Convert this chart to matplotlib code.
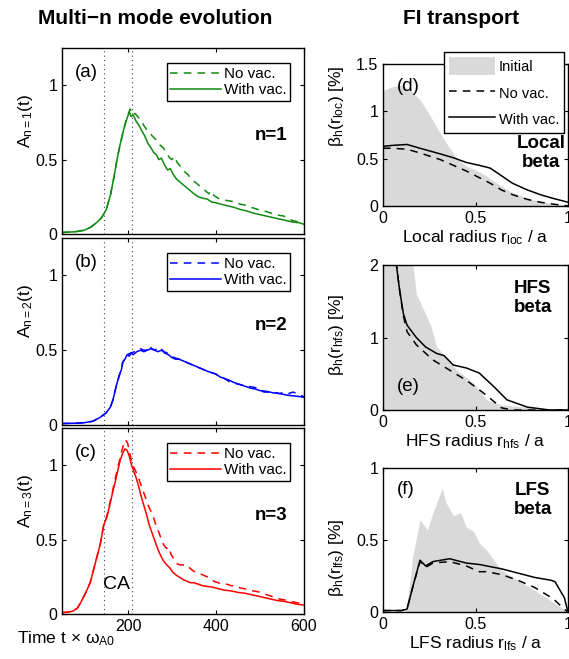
import matplotlib
matplotlib.use("Agg")
import matplotlib.pyplot as plt
from matplotlib.patches import Patch
from matplotlib.lines import Line2D

plt.rcParams['font.family'] = ['Liberation Sans', 'DejaVu Sans']
plt.rcParams['mathtext.fontset'] = 'custom'
plt.rcParams['mathtext.rm'] = 'Liberation Sans'
plt.rcParams['mathtext.it'] = 'Liberation Sans'
plt.rcParams['mathtext.bf'] = 'Liberation Sans:bold'

# ---- left column: mode amplitudes vs time ----
t1_with = [50, 80, 100, 115, 130, 140, 150, 160, 168, 175, 182, 190, 197, 203, 207, 212, 218, 225, 232,
           238, 245, 252, 258, 265, 270, 276, 282, 290, 296, 303, 310, 318, 326, 334, 342, 350, 360, 370,
           380, 390, 400, 412, 425, 440, 455, 470, 485, 500, 515, 530, 545, 560, 575, 590, 600]
a1_with = [0.01, 0.015, 0.025, 0.045, 0.08, 0.11, 0.16, 0.26, 0.38, 0.5, 0.6, 0.7, 0.77, 0.82, 0.79, 0.8,
           0.76, 0.73, 0.69, 0.66, 0.61, 0.58, 0.55, 0.53, 0.5, 0.51, 0.47, 0.43, 0.44, 0.4, 0.37, 0.35,
           0.33, 0.31, 0.29, 0.27, 0.25, 0.24, 0.235, 0.215, 0.21, 0.2, 0.19, 0.18, 0.165, 0.155, 0.14,
           0.13, 0.12, 0.11, 0.1, 0.09, 0.08, 0.075, 0.065]
t1_novac = [50, 80, 100, 115, 130, 140, 150, 160, 168, 175, 182, 190, 197, 205, 210, 216, 222, 230, 238,
            245, 252, 258, 265, 272, 280, 288, 295, 300, 305, 312, 320, 328, 336, 344, 352, 360, 368, 376,
            384, 388, 395, 405, 415, 425, 435, 445, 455, 465, 475, 485, 495, 505, 515, 525, 535, 545, 555,
            565, 575, 590, 600]
a1_novac = [0.01, 0.015, 0.025, 0.045, 0.08, 0.11, 0.16, 0.26, 0.38, 0.5, 0.6, 0.7, 0.78, 0.84, 0.8, 0.81,
            0.79, 0.76, 0.72, 0.69, 0.67, 0.65, 0.63, 0.6, 0.58, 0.54, 0.51, 0.5, 0.52, 0.48, 0.45, 0.42,
            0.4, 0.37, 0.35, 0.33, 0.31, 0.29, 0.27, 0.29, 0.26, 0.24, 0.23, 0.225, 0.22, 0.215, 0.2, 0.195,
            0.18, 0.175, 0.165, 0.16, 0.15, 0.14, 0.13, 0.125, 0.12, 0.1, 0.09, 0.08, 0.075]

t2_with = [50, 80, 100, 120, 136, 150, 160, 166, 170, 175, 180, 185, 188, 193, 198, 203, 207, 212, 220,
           228, 236, 244, 252, 260, 268, 276, 284, 292, 300, 308, 316, 324, 332, 340, 348, 356, 364, 372,
           380, 390, 400, 410, 420, 430, 440, 450, 460, 470, 480, 490, 500, 515, 530, 545, 560, 575, 590, 600]
a2_with = [0.01, 0.012, 0.015, 0.025, 0.05, 0.08, 0.12, 0.17, 0.22, 0.28, 0.33, 0.37, 0.42, 0.44, 0.47,
           0.46, 0.48, 0.47, 0.49, 0.5, 0.49, 0.5, 0.51, 0.5, 0.49, 0.5, 0.48, 0.47, 0.45, 0.44, 0.44, 0.43,
           0.42, 0.41, 0.4, 0.39, 0.38, 0.37, 0.36, 0.35, 0.34, 0.32, 0.31, 0.3, 0.285, 0.275, 0.265, 0.255,
           0.245, 0.24, 0.23, 0.225, 0.215, 0.21, 0.2, 0.195, 0.19, 0.185]
t2_novac = [50, 80, 100, 120, 136, 150, 160, 166, 170, 175, 180, 185, 188, 193, 198, 205, 215, 222, 228,
            236, 242, 248, 254, 262, 268, 275, 282, 290, 298, 306, 316, 324, 332, 340, 348, 356, 364, 372,
            380, 390, 400, 410, 420, 430, 440, 455, 470, 490, 500, 510, 530, 545, 555, 565, 575, 585, 590, 600]
a2_novac = [0.01, 0.012, 0.015, 0.025, 0.05, 0.08, 0.12, 0.17, 0.22, 0.28, 0.33, 0.37, 0.42, 0.44, 0.47,
            0.48, 0.49, 0.5, 0.51, 0.5, 0.5, 0.53, 0.51, 0.5, 0.52, 0.51, 0.49, 0.48, 0.46, 0.45, 0.44, 0.43,
            0.42, 0.41, 0.4, 0.39, 0.38, 0.37, 0.36, 0.35, 0.34, 0.32, 0.31, 0.29, 0.28, 0.27, 0.26, 0.25,
            0.23, 0.22, 0.22, 0.21, 0.22, 0.21, 0.22, 0.21, 0.2, 0.19]

t3_with = [50, 65, 75, 85, 95, 105, 114, 122, 129, 137, 145, 152, 160, 166, 172, 178, 183, 188, 193, 198,
           203, 208, 213, 218, 224, 230, 236, 242, 248, 254, 260, 266, 273, 280, 288, 295, 302, 310, 318,
           326, 334, 342, 350, 360, 370, 380, 393, 405, 420, 435, 450, 465, 480, 495, 510, 525, 540, 555,
           570, 585, 600]
a3_with = [0.01, 0.012, 0.02, 0.04, 0.09, 0.15, 0.21, 0.3, 0.38, 0.47, 0.6, 0.65, 0.75, 0.83, 0.9, 0.98,
           1.04, 1.08, 1.11, 1.1, 1.06, 1.0, 0.96, 0.92, 0.86, 0.79, 0.73, 0.67, 0.6, 0.55, 0.5, 0.45, 0.4,
           0.36, 0.33, 0.31, 0.28, 0.26, 0.245, 0.23, 0.22, 0.21, 0.21, 0.2, 0.19, 0.185, 0.18, 0.17, 0.16,
           0.155, 0.145, 0.14, 0.13, 0.12, 0.11, 0.1, 0.09, 0.085, 0.075, 0.065, 0.06]
t3_novac = [50, 65, 75, 85, 95, 105, 114, 122, 129, 137, 145, 152, 160, 166, 170, 176, 182, 188, 194, 199,
            204, 210, 216, 222, 228, 234, 240, 246, 252, 258, 264, 270, 276, 282, 288, 292, 298, 304, 310,
            318, 326, 334, 340, 348, 356, 364, 372, 380, 388, 395, 405, 415, 425, 435, 445, 455, 465, 475,
            485, 495, 505, 515, 525, 535, 545, 555, 570, 585, 600]
a3_novac = [0.01, 0.012, 0.02, 0.04, 0.09, 0.15, 0.21, 0.3, 0.38, 0.47, 0.6, 0.66, 0.76, 0.84, 0.9, 0.97,
            1.05, 1.12, 1.17, 1.15, 1.08, 1.0, 0.97, 0.93, 0.88, 0.83, 0.78, 0.73, 0.69, 0.65, 0.59, 0.55,
            0.5, 0.46, 0.44, 0.45, 0.4, 0.37, 0.34, 0.33, 0.33, 0.33, 0.31, 0.29, 0.28, 0.27, 0.26, 0.25,
            0.24, 0.22, 0.21, 0.2, 0.2, 0.19, 0.19, 0.175, 0.17, 0.16, 0.155, 0.15, 0.14, 0.13, 0.12, 0.11,
            0.1, 0.095, 0.085, 0.075, 0.07]

ca_times = [145, 210]

# ---- right column: fast ion beta profiles ----
r_loc_init = [0, 0.05, 0.1, 0.15, 0.2, 0.25, 0.3, 0.35, 0.4, 0.45, 0.5, 0.55, 0.6, 0.65, 0.7, 0.8, 0.9, 1.0]
b_loc_init = [1.22, 1.26, 1.28, 1.22, 1.12, 0.97, 0.8, 0.64, 0.5, 0.42, 0.38, 0.33, 0.26, 0.2, 0.14, 0.07, 0.03, 0.01]
r_loc = [0, 0.05, 0.13, 0.2, 0.31, 0.38, 0.45, 0.52, 0.58, 0.64, 0.7, 0.78, 0.85, 0.92, 1.0]
b_loc_with = [0.63, 0.64, 0.65, 0.61, 0.55, 0.51, 0.46, 0.43, 0.4, 0.32, 0.24, 0.17, 0.12, 0.08, 0.04]
b_loc_novac = [0.61, 0.61, 0.6, 0.56, 0.49, 0.43, 0.37, 0.3, 0.24, 0.17, 0.12, 0.07, 0.04, 0.02, 0.0]

r_hfs_init = [0, 0.1, 0.16, 0.18, 0.22, 0.26, 0.29, 0.33, 0.4, 0.49, 0.56, 0.64, 0.82, 1.0]
b_hfs_init = [2.1, 2.1, 2.05, 1.6, 1.38, 1.15, 0.87, 0.76, 0.55, 0.37, 0.14, 0.07, 0.03, 0.0]
r_hfs_with = [0.07, 0.09, 0.11, 0.13, 0.18, 0.23, 0.29, 0.33, 0.38, 0.45, 0.52, 0.6, 0.67, 0.78, 0.9, 1.0]
b_hfs_with = [2.05, 1.65, 1.33, 1.17, 1.0, 0.87, 0.78, 0.75, 0.62, 0.58, 0.51, 0.32, 0.14, 0.04, 0.0, 0.0]
r_hfs_novac = [0.07, 0.09, 0.11, 0.13, 0.18, 0.27, 0.36, 0.45, 0.52, 0.57, 0.64, 0.7, 1.0]
b_hfs_novac = [2.05, 1.65, 1.3, 1.08, 0.9, 0.69, 0.55, 0.41, 0.28, 0.18, 0.03, 0.0, 0.0]

r_lfs_init = [0, 0.12, 0.14, 0.16, 0.2, 0.24, 0.27, 0.32, 0.34, 0.38, 0.42, 0.45, 0.49, 0.52, 0.56,
              0.64, 0.73, 0.82, 0.93, 1.0]
b_lfs_init = [0, 0.0, 0.15, 0.38, 0.64, 0.57, 0.69, 0.86, 0.76, 0.67, 0.69, 0.59, 0.56, 0.48, 0.43,
              0.29, 0.22, 0.15, 0.06, 0.0]
r_lfs = [0, 0.1, 0.13, 0.16, 0.2, 0.23, 0.27, 0.36, 0.45, 0.52, 0.56, 0.64, 0.73, 0.82, 0.91, 0.93, 0.98, 1.0]
b_lfs_with = [0.01, 0.01, 0.02, 0.17, 0.36, 0.32, 0.35, 0.37, 0.34, 0.33, 0.32, 0.3, 0.27, 0.24, 0.22,
              0.21, 0.1, 0.0]
b_lfs_novac = [0.01, 0.01, 0.02, 0.17, 0.35, 0.31, 0.34, 0.35, 0.32, 0.28, 0.28, 0.26, 0.22, 0.17, 0.1,
               0.08, 0.02, 0.0]

W, H = 569, 659
fig = plt.figure(figsize=(W / 100, H / 100), dpi=100)

def px_axes(x0, y0, x1, y1):
    return fig.add_axes([x0 / W, 1 - y1 / H, (x1 - x0) / W, (y1 - y0) / H])

def style(ax):
    ax.tick_params(direction='in', top=True, right=True, labelsize=11.5, length=3, width=0.8)
    for s in ax.spines.values():
        s.set_linewidth(1.0)

DASH = (0, (5, 4))

# left column
left_panels = [
    (48, 234, t1_with, a1_with, t1_novac, a1_novac, '#108a10', '(a)', 'n=1', r'$\mathregular{A_{n=1}(t)}$'),
    (238, 425, t2_with, a2_with, t2_novac, a2_novac, '#0000ff', '(b)', 'n=2', r'$\mathregular{A_{n=2}(t)}$'),
    (428, 614, t3_with, a3_with, t3_novac, a3_novac, '#ff0000', '(c)', 'n=3', r'$\mathregular{A_{n=3}(t)}$'),
]
for i, (y0, y1, tw, aw, tn, an, col, tag, nlab, ylab) in enumerate(left_panels):
    ax = px_axes(62, y0, 304, y1)
    for tc in ca_times:
        ax.axvline(tc, color='#444444', ls=(0, (1, 3)), lw=0.8)
    ax.plot(tn, an, color=col, ls=DASH, lw=1.1, label='No vac.')
    ax.plot(tw, aw, color=col, lw=1.1, label='With vac.')
    ax.set_xlim(50, 600)
    ax.set_ylim(0, 1.25)
    ax.set_xticks([200, 400, 600])
    ax.set_yticks([0, 0.5, 1])
    ax.set_yticklabels(['0', '0.5', '1'])
    style(ax)
    if i < 2:
        ax.set_xticklabels([])
    ax.set_ylabel(ylab, fontsize=12.5)
    ax.yaxis.set_label_coords(-0.11, 0.61)
    ax.text(0.054, 0.87, tag, transform=ax.transAxes, fontsize=13.5, va='center')
    ax.text(0.93, 0.53, nlab, transform=ax.transAxes, fontsize=13.5, fontweight='bold',
            ha='right', va='center')
    ax.legend(loc='upper right', bbox_to_anchor=(0.975, 0.96), fontsize=11, handlelength=3.3,
              borderpad=0.25, labelspacing=0.15, handletextpad=0.2, fancybox=False,
              edgecolor='black', framealpha=1).get_frame().set_linewidth(1.0)
    if i == 2:
        ax.text(0.17, 0.16, 'CA', transform=ax.transAxes, fontsize=14, va='center')

fig.text(17 / W, 1 - 639 / H, r'Time t $\mathregular{\times\ \omega_{A0}}$', fontsize=12.5,
         ha='left', va='center')

# right column
right_panels = [
    (64, 206, r_loc_init, b_loc_init, r_loc, b_loc_with, r_loc, b_loc_novac, 1.5, [0, 0.5, 1, 1.5],
     ['0', '0.5', '1', '1.5'], '(d)', 'Local\nbeta', r'Local radius $\mathregular{r_{loc}}$ / a',
     r'$\mathregular{\beta_h(r_{loc})\ [\%]}$'),
    (265, 410, r_hfs_init, b_hfs_init, r_hfs_with, b_hfs_with, r_hfs_novac, b_hfs_novac, 2, [0, 1, 2],
     ['0', '1', '2'], '(e)', 'HFS\nbeta', r'HFS radius $\mathregular{r_{hfs}}$ / a',
     r'$\mathregular{\beta_h(r_{hfs})\ [\%]}$'),
    (468, 612, r_lfs_init, b_lfs_init, r_lfs, b_lfs_with, r_lfs, b_lfs_novac, 1, [0, 0.5, 1],
     ['0', '0.5', '1'], '(f)', 'LFS\nbeta', r'LFS radius $\mathregular{r_{lfs}}$ / a',
     r'$\mathregular{\beta_h(r_{lfs})\ [\%]}$'),
]
tag_pos = {'(d)': (0.075, 0.84), '(e)': (0.075, 0.16), '(f)': (0.075, 0.85)}
txt_pos = {'(d)': (0.855, 0.37), '(e)': (0.81, 0.77), '(f)': (0.81, 0.78)}
ylab_y = {'(d)': 0.70, '(e)': 0.52, '(f)': 0.375}
for (y0, y1, ri, bi, rw, bw, rn, bn, ytop, yt, ytl, tag, name, xlab, ylab) in right_panels:
    ax = px_axes(383, y0, 568, y1)
    ax.fill_between(ri, 0, bi, color='#d9d9d9', lw=0)
    ax.plot(rn, bn, color='black', ls=DASH, lw=1.1)
    ax.plot(rw, bw, color='black', lw=1.1)
    ax.set_xlim(0, 1)
    ax.set_ylim(0, ytop)
    ax.set_xticks([0, 0.5, 1])
    ax.set_xticklabels(['0', '0.5', '1'])
    ax.set_yticks(yt)
    ax.set_yticklabels(ytl)
    style(ax)
    ax.set_xlabel(xlab, fontsize=12.5, labelpad=2)
    ax.set_ylabel(ylab, fontsize=12.5)
    ax.yaxis.set_label_coords(-0.2, ylab_y[tag])
    ax.text(*tag_pos[tag], tag, transform=ax.transAxes, fontsize=13.5, va='center')
    ax.text(*txt_pos[tag], name, transform=ax.transAxes, fontsize=13.5, fontweight='bold',
            ha='center', va='center', multialignment='center', linespacing=1.15)

handles = [Patch(facecolor='#d9d9d9', edgecolor='none', label='Initial'),
           Line2D([], [], color='black', ls=DASH, lw=1.1, label='No vac.'),
           Line2D([], [], color='black', lw=1.1, label='With vac.')]
leg = fig.legend(handles=handles, loc='upper left', bbox_to_anchor=(437 / W, 1 - 45 / H), fontsize=10.5,
                 handlelength=3.1, handleheight=1.5, borderpad=0.35, labelspacing=0.6, handletextpad=0.3,
                 fancybox=False, edgecolor='black', framealpha=1)
leg.get_frame().set_linewidth(1.0)

fig.text(155 / W, 1 - 18 / H, 'Multi\u2212n mode evolution', fontsize=15, fontweight='bold',
         ha='center', va='center')
fig.text(461 / W, 1 - 18 / H, 'FI transport', fontsize=15, fontweight='bold', ha='center', va='center')

fig.savefig('out.png', dpi=100)
